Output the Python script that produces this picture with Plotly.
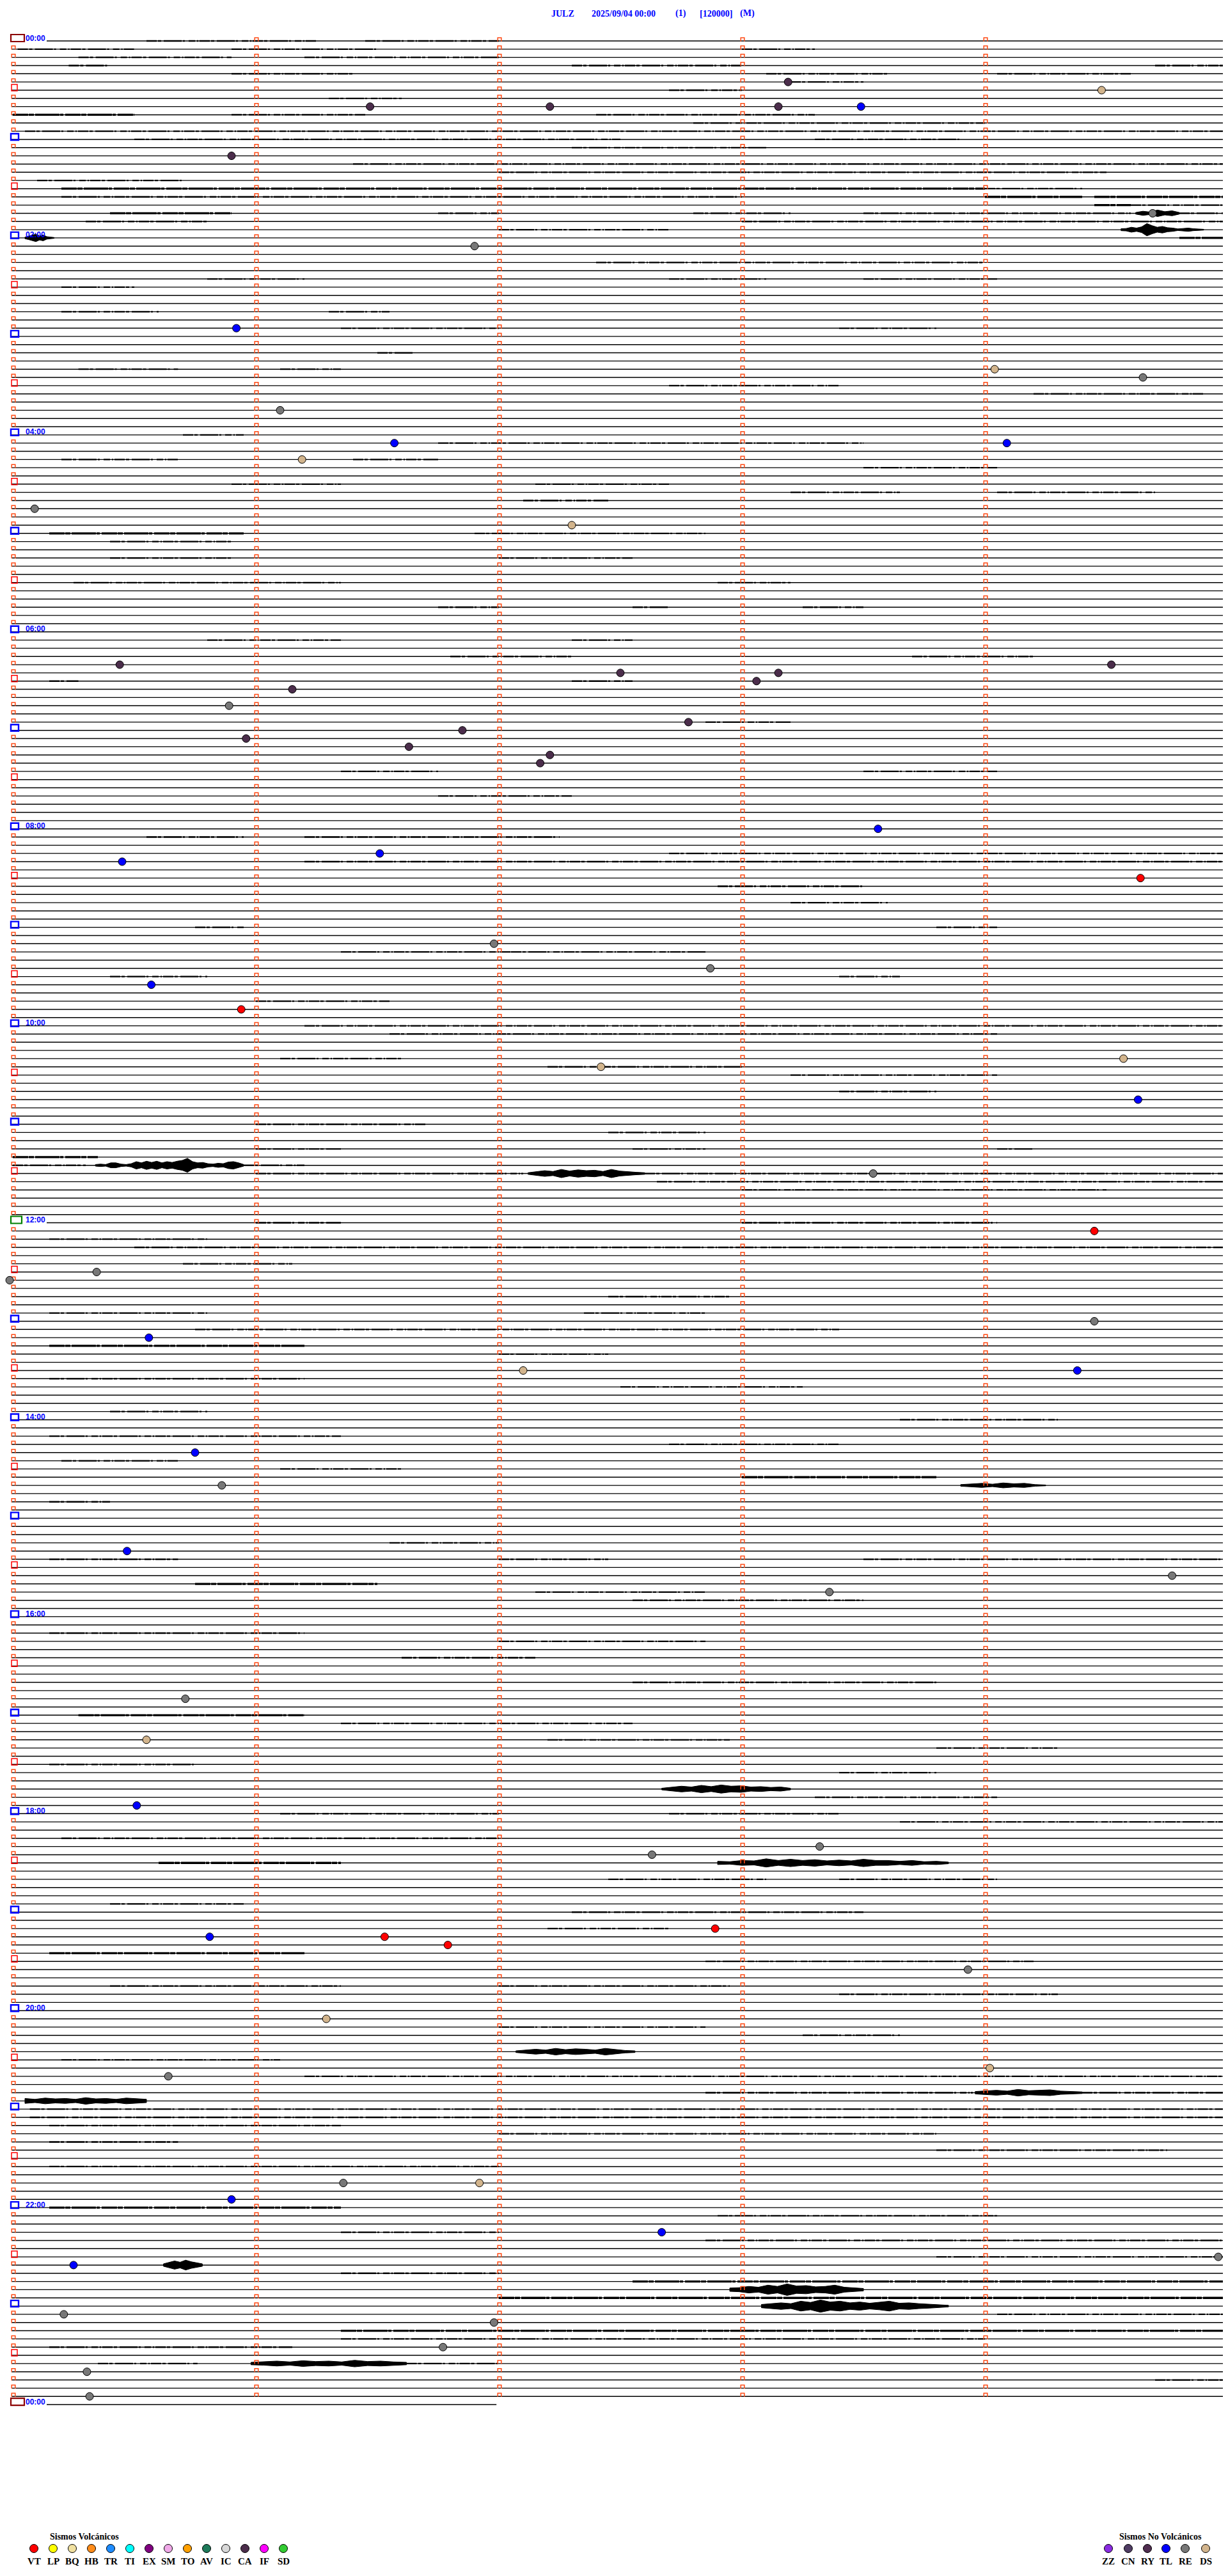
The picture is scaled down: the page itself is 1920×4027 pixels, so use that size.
import plotly.graph_objects as go

# ---------------- data ----------------
HEADER_PARTS = ["JULZ", "2025/09/04 00:00", "(1)", "[120000]", "(M)"]

N_LINES = 289              # one line per 5 minutes, 00:00 -> 00:00 next day
MINUTES_PER_LINE = 5
LAST_LINE_END_MIN = 1.99   # data available on the last line

TIME_LABEL_LINES = list(range(0, 289, 24))
TIME_LABELS = ["00:00", "02:00", "04:00", "06:00", "08:00", "10:00", "12:00",
               "14:00", "16:00", "18:00", "20:00", "22:00", "00:00"]

VOLC_TYPES = ["VT", "LP", "BQ", "HB", "TR", "TI", "EX", "SM", "TO", "AV", "IC", "CA", "IF", "SD"]
VOLC_COLORS = ["#FF0000", "#FFFF00", "#F0E0A0", "#FF8C1A", "#1E8CFF", "#00FFFF", "#800080",
               "#F0A8E8", "#FFA000", "#1E7A5A", "#D8D8D8", "#4B2D4B", "#FF00FF", "#33CC33"]
NONVOLC_TYPES = ["ZZ", "CN", "RY", "TL", "RE", "DS"]
NONVOLC_COLORS = ["#8A2BE2", "#503C64", "#502D50", "#0000FF", "#787878", "#D2B48C"]

# events: line index (5-min line), minute within line, type
EV_LINE = [5, 6, 8, 8, 8, 8, 14, 21, 25, 35, 40, 41, 45, 49, 49, 51, 57, 59,
           76, 76, 77, 77, 78, 79, 81, 83, 84, 85, 86, 87, 88,
           96, 100, 99, 102, 110, 113, 115, 118, 124, 125, 129, 138, 145,
           150, 151, 156, 158, 162, 162, 172, 176, 184, 187, 189,
           202, 207, 215, 220, 221, 230, 231, 231, 232, 235, 241, 247, 248,
           261, 261, 263, 267, 270, 271, 277, 278, 281, 284, 287]
EV_MIN = [3.19, 4.48, 1.47, 2.21, 3.15, 3.49, 0.90, 4.69, 1.90, 0.92, 4.04, 4.65, 1.10, 1.57, 4.09, 1.19, 0.09, 2.30,
          0.44, 4.52, 2.50, 3.15, 3.06, 1.15, 0.89, 2.78, 1.85, 0.96, 1.63, 2.21, 2.17,
          3.56, 0.45, 1.51, 4.64, 1.98, 2.87, 0.57, 0.94, 4.57, 2.42, 4.63, 3.54, 4.45,
          0.345, -0.013, 4.45, 0.56, 2.10, 4.38, 0.75, 0.86, 0.47, 4.77, 3.36,
          0.71, 0.55, 0.51, 3.32, 2.63, 2.89, 0.81, 1.53, 1.79, 3.93, 1.29, 4.02, 0.64,
          1.36, 1.92, 0.90, 2.67, 4.96, 0.25, 0.21, 1.98, 1.77, 0.305, 0.316]
EV_TYPE = ["CA", "DS", "CA", "CA", "CA", "TL", "CA", "RE", "RE", "TL", "DS", "RE", "RE", "TL", "TL", "DS", "RE", "DS",
           "CA", "CA", "CA", "CA", "CA", "CA", "RE", "CA", "CA", "CA", "CA", "CA", "CA",
           "TL", "TL", "TL", "VT", "RE", "RE", "TL", "VT", "DS", "DS", "TL", "RE", "VT",
           "RE", "RE", "RE", "TL", "DS", "TL", "TL", "RE", "TL", "RE", "RE",
           "RE", "DS", "TL", "RE", "RE", "VT", "TL", "VT", "VT", "RE", "DS", "DS", "RE",
           "RE", "DS", "TL", "TL", "RE", "TL", "RE", "RE", "RE", "RE", "RE"]

# background noise segments: (line, start minute, end minute, level)
NOISE_SEGMENTS = [
    (0, 0.55, 1.25, 1), (0, 1.45, 2.0, 1),
    (1, 0.02, 0.5, 1), (1, 0.9, 1.5, 1), (1, 3.0, 3.3, 1),
    (2, 0.27, 0.9, 1), (2, 1.2, 2.0, 1),
    (3, 0.23, 0.4, 1), (3, 2.3, 3.0, 1), (3, 4.7, 5.0, 1),
    (4, 0.9, 1.4, 1), (4, 3.1, 3.6, 1), (4, 4.05, 4.6, 1),
    (5, 3.2, 3.5, 1), (6, 2.7, 3.0, 1), (7, 1.3, 1.6, 1),
    (9, 0.0, 0.5, 2), (9, 0.9, 1.45, 1), (9, 2.4, 3.3, 1),
    (10, 2.8, 4.0, 1), (11, 0.05, 5.0, 1),
    (12, 0.5, 2.5, 1), (12, 3.3, 3.9, 1), (13, 2.3, 3.1, 1),
    (15, 1.4, 5.0, 1), (16, 2.0, 4.5, 1), (17, 0.1, 0.7, 1),
    (18, 0.2, 4.0, 2), (18, 4.0, 4.4, 1),
    (19, 0.2, 3.0, 1), (19, 4.0, 4.4, 2), (19, 4.45, 5.0, 2),
    (20, 4.45, 4.6, 2), (20, 4.6, 5.0, 1),
    (21, 0.4, 0.9, 2), (21, 1.75, 2.0, 1), (21, 2.8, 3.2, 1), (21, 3.5, 4.6, 1), (21, 4.8, 5.0, 1),
    (22, 0.3, 0.8, 1), (22, 3.0, 5.0, 1), (23, 2.0, 2.7, 1), (24, 4.8, 5.0, 2),
    (27, 2.4, 4.0, 1), (29, 0.8, 1.2, 1), (29, 2.7, 3.1, 1), (29, 3.5, 4.05, 1), (30, 0.2, 0.5, 1),
    (33, 0.2, 0.6, 1), (33, 1.3, 1.55, 1), (35, 1.35, 2.0, 1), (35, 3.4, 3.8, 1), (38, 1.5, 1.65, 1),
    (40, 0.27, 0.68, 1), (40, 1.1, 1.35, 1), (42, 2.7, 3.4, 1), (43, 4.2, 4.9, 1),
    (48, 0.7, 0.95, 1), (49, 1.75, 3.5, 1), (51, 0.2, 0.68, 1), (51, 1.4, 1.75, 1), (52, 3.5, 4.05, 1),
    (54, 0.9, 1.35, 1), (54, 2.15, 2.7, 1), (55, 3.2, 3.65, 1), (55, 4.05, 4.7, 1), (56, 2.1, 2.45, 1),
    (60, 0.15, 0.95, 2), (60, 1.9, 2.85, 1), (61, 0.4, 0.9, 1), (63, 0.4, 0.9, 1), (63, 2.0, 2.55, 1),
    (66, 0.25, 1.35, 1), (66, 2.9, 3.2, 1), (69, 1.75, 2.0, 1), (69, 2.55, 2.7, 1), (69, 3.25, 3.5, 1),
    (73, 0.8, 1.35, 1), (73, 2.3, 2.55, 1), (75, 1.8, 2.3, 1), (75, 3.7, 4.2, 1),
    (78, 0.15, 0.27, 1), (78, 2.3, 2.55, 1), (83, 2.85, 3.2, 1), (89, 1.35, 1.75, 1), (89, 3.5, 4.05, 1),
    (92, 1.75, 2.3, 1), (97, 0.55, 0.95, 1), (97, 1.2, 2.25, 1), (99, 2.7, 5.0, 1), (100, 1.2, 5.0, 1),
    (103, 2.9, 3.5, 1), (105, 3.2, 3.6, 1), (108, 0.75, 0.95, 1), (108, 3.8, 4.05, 1),
    (111, 1.35, 2.05, 1), (111, 2.05, 2.85, 1), (114, 0.4, 0.8, 1), (114, 3.4, 3.65, 1),
    (117, 1.0, 1.55, 1), (120, 1.2, 5.0, 1), (121, 1.55, 4.05, 1),
    (124, 1.1, 1.6, 1), (125, 2.2, 3.0, 1), (126, 3.2, 4.05, 1), (128, 3.4, 3.8, 1),
    (132, 1.0, 1.7, 1), (133, 2.45, 2.85, 1), (135, 1.0, 1.35, 1), (135, 2.55, 2.85, 1), (135, 4.05, 4.2, 1),
    (136, 0.0, 0.35, 2), (137, 0.0, 0.3, 1), (137, 0.95, 1.2, 1),
    (138, 1.0, 2.1, 1), (138, 2.6, 5.0, 1), (139, 2.65, 5.0, 1), (140, 3.0, 4.5, 1),
    (144, 1.0, 1.35, 1), (144, 3.0, 4.05, 1), (146, 0.15, 0.8, 1), (147, 0.5, 5.0, 1),
    (149, 0.7, 1.15, 1), (153, 2.45, 2.95, 1), (155, 0.15, 0.8, 1), (155, 2.35, 2.85, 1),
    (157, 0.75, 3.4, 1), (159, 0.15, 1.2, 2), (160, 2.0, 2.45, 1),
    (163, 0.15, 1.2, 1), (164, 2.5, 3.25, 1), (167, 0.4, 0.8, 1), (168, 3.65, 4.3, 1),
    (170, 0.15, 1.35, 1), (171, 2.7, 3.4, 1), (173, 0.2, 0.68, 1), (174, 1.1, 1.6, 1),
    (175, 3.0, 3.8, 2), (178, 0.15, 0.4, 1), (183, 1.55, 2.0, 1),
    (185, 0.15, 0.68, 1), (185, 2.0, 2.45, 1), (185, 3.5, 5.0, 1),
    (188, 0.75, 1.5, 2), (189, 2.15, 2.85, 1), (190, 2.55, 3.5, 1),
    (194, 0.15, 1.2, 1), (195, 2.0, 2.85, 1), (197, 1.6, 2.15, 1), (200, 2.55, 3.8, 1),
    (204, 0.27, 1.2, 2), (205, 1.35, 2.55, 1), (207, 2.2, 2.95, 1), (208, 3.8, 4.3, 1),
    (210, 0.15, 0.75, 1), (211, 3.4, 3.8, 1), (214, 3.3, 4.05, 1),
    (216, 1.1, 2.0, 1), (216, 2.7, 3.4, 1), (217, 3.65, 5.0, 1), (219, 0.2, 2.0, 1),
    (222, 0.6, 1.35, 2), (224, 2.45, 3.1, 1), (224, 3.4, 4.05, 1),
    (227, 0.4, 0.95, 1), (228, 2.3, 3.5, 1), (230, 2.2, 2.7, 1),
    (233, 0.15, 1.2, 2), (234, 2.85, 4.2, 1), (237, 0.4, 1.35, 1), (237, 2.0, 2.95, 1), (238, 3.4, 4.3, 1),
    (242, 2.0, 2.85, 1), (243, 3.25, 3.65, 1), (246, 0.2, 1.1, 1), (248, 1.2, 5.0, 1),
    (250, 2.85, 3.95, 1), (250, 4.4, 5.0, 1), (252, 0.07, 5.0, 1), (253, 0.07, 5.0, 1),
    (254, 0.15, 1.35, 1), (255, 2.0, 3.8, 1), (256, 0.15, 0.68, 1), (257, 3.8, 4.75, 1),
    (259, 0.15, 2.0, 1), (264, 0.15, 1.35, 2), (265, 2.9, 4.05, 1),
    (267, 1.35, 2.0, 1), (268, 2.85, 5.0, 1), (270, 3.8, 5.0, 1),
    (272, 1.35, 2.0, 1), (273, 2.55, 5.0, 2), (275, 2.0, 5.0, 2), (277, 4.05, 5.0, 1),
    (279, 1.35, 5.0, 2), (280, 1.35, 4.0, 1), (281, 0.15, 1.15, 1), (283, 0.35, 0.76, 1),
    (283, 1.62, 2.0, 1), (285, 4.7, 5.0, 1),
]

# seismic bursts: line, start minute, end minute, half-amplitude envelope (in line spacings)
BURSTS = [
    (21, 4.62, 4.8, [0.1, 0.25, 0.15, 0.4, 0.2, 0.3, 0.1]),
    (23, 4.56, 4.90, [0.12, 0.15, 0.3, 0.2, 0.35, 0.75, 0.5, 0.3, 0.4, 0.25, 0.2, 0.1, 0.15, 0.2, 0.12, 0.08, 0.05]),
    (24, 0.05, 0.17, [0.1, 0.2, 0.3, 0.45, 0.25, 0.35, 0.15, 0.1, 0.05]),
    (137, 0.34, 0.95, [0.1, 0.15, 0.1, 0.3, 0.3, 0.15, 0.1, 0.2, 0.45, 0.3, 0.5, 0.35, 0.5, 0.3, 0.45,
                       0.35, 0.5, 0.6, 0.85, 0.45, 0.3, 0.35, 0.2, 0.15, 0.25, 0.2, 0.4, 0.45, 0.3, 0.1]),
    (138, 2.12, 2.6, [0.1, 0.2, 0.35, 0.25, 0.5, 0.3, 0.45, 0.35, 0.4, 0.25, 0.5, 0.3, 0.2, 0.15, 0.1]),
    (176, 3.9, 4.25, [0.1, 0.15, 0.25, 0.15, 0.3, 0.2, 0.25, 0.1, 0.05]),
    (213, 2.67, 3.2, [0.1, 0.2, 0.35, 0.25, 0.45, 0.3, 0.5, 0.35, 0.4, 0.25, 0.3, 0.2, 0.25, 0.1]),
    (222, 2.9, 3.85, [0.2, 0.15, 0.3, 0.25, 0.5, 0.3, 0.45, 0.3, 0.4, 0.25, 0.35, 0.25, 0.45, 0.3,
                      0.3, 0.2, 0.3, 0.15, 0.2, 0.1]),
    (245, 2.07, 2.56, [0.1, 0.2, 0.3, 0.2, 0.4, 0.25, 0.35, 0.3, 0.2, 0.4, 0.25, 0.15, 0.1]),
    (250, 3.96, 4.4, [0.15, 0.25, 0.3, 0.2, 0.4, 0.25, 0.3, 0.35, 0.2, 0.15, 0.1]),
    (251, 0.05, 0.55, [0.3, 0.2, 0.35, 0.25, 0.3, 0.2, 0.4, 0.25, 0.3, 0.2, 0.35, 0.25, 0.2]),
    (271, 0.62, 0.78, [0.15, 0.3, 0.5, 0.35, 0.6, 0.4, 0.25, 0.15]),
    (274, 2.95, 3.5, [0.2, 0.25, 0.4, 0.3, 0.55, 0.4, 0.7, 0.45, 0.5, 0.35, 0.4, 0.55, 0.3, 0.25, 0.15]),
    (276, 3.08, 3.85, [0.2, 0.3, 0.4, 0.3, 0.6, 0.45, 0.75, 0.5, 0.6, 0.4, 0.5, 0.35, 0.45, 0.6,
                       0.35, 0.4, 0.3, 0.25, 0.2, 0.1]),
    (283, 0.98, 1.62, [0.15, 0.2, 0.3, 0.2, 0.35, 0.25, 0.3, 0.2, 0.4, 0.25, 0.3, 0.2, 0.15]),
]

# ---------------- layout geometry ----------------
W, H = 1920, 4027
X0_PX, PX_PER_MIN = 12, 380
Y0_PX, PX_PER_LINE = 56, 12.83


def mx(px):
    return (px - X0_PX) / PX_PER_MIN


def ky(py):
    return (py - Y0_PX) / PX_PER_LINE


TYPE_COLOR = dict(zip(VOLC_TYPES + NONVOLC_TYPES, VOLC_COLORS + NONVOLC_COLORS))

fig = go.Figure()

# baselines
bx, by = [], []
for k in range(N_LINES):
    start = mx(65) if k in (0, 144, 288) else mx(10)
    end = MINUTES_PER_LINE if k < N_LINES - 1 else LAST_LINE_END_MIN
    bx += [start, end, None]
    by += [k, k, None]
fig.add_trace(go.Scatter(x=bx, y=by, mode="lines", line=dict(color="black", width=1.4),
                         hoverinfo="skip", showlegend=False))

# noise segments
for lvl, width, dash in [(1, 2.3, "16px,2px,5px,4px,28px,2px,3px,6px,10px,3px,2px,2px"),
                         (2, 3.3, "24px,1px,8px,2px,38px,1px,5px,3px")]:
    nx, ny = [], []
    for (k, m0, m1, lv) in NOISE_SEGMENTS:
        if lv == lvl:
            nx += [m0, m1, None]
            ny += [k, k, None]
    fig.add_trace(go.Scatter(x=nx, y=ny, mode="lines", line=dict(color="black", width=width, dash=dash),
                             hoverinfo="skip", showlegend=False))

# bursts as filled jagged envelopes
px_, py_ = [], []
for (k, m0, m1, amps) in BURSTS:
    n = len(amps)
    ms = [m0 + (m1 - m0) * i / (n - 1) for i in range(n)]
    upper = [(m, k - a) for m, a in zip(ms, amps)]
    lower = [(m, k + a) for m, a in zip(ms, amps)][::-1]
    pts = upper + lower + [upper[0]]
    px_ += [p[0] for p in pts] + [None]
    py_ += [p[1] for p in pts] + [None]
fig.add_trace(go.Scatter(x=px_, y=py_, mode="lines", fill="toself", fillcolor="black",
                         line=dict(color="black", width=1), hoverinfo="skip", showlegend=False))

# minute ticks (small orange brackets)
tx, ty = [], []
hw = 2.8 / PX_PER_MIN
hh = 5.0 / PX_PER_LINE
for k in range(N_LINES - 1):
    for m in range(MINUTES_PER_LINE):
        if m == 0 and k % 6 == 0:
            continue
        cx = m + 1.0 / PX_PER_MIN
        tx += [cx - hw, cx - hw, cx + hw, cx + hw, None]
        ty += [k + 0.05, k - hh, k - hh, k + 0.05, None]
fig.add_trace(go.Scatter(x=tx, y=ty, mode="lines", line=dict(color="#FF4A14", width=1.5),
                         hoverinfo="skip", showlegend=False))

# half-hour / hour boxes
shapes = []
for k in range(0, N_LINES, 6):
    if k in (0, 288):
        col, x0, x1, lw, hgt = "#8B0000", 9, 30, 2.2, 10
    elif k == 144:
        col, x0, x1, lw, hgt = "#008000", 9, 26, 2.2, 10
    elif k % 12 == 0:
        col, x0, x1, lw, hgt = "#0000FF", 9, 21, 2.4, 9
    else:
        col, x0, x1, lw, hgt = "#FF0000", 10, 19, 1.5, 9
    shapes.append(dict(type="rect", xref="x", yref="y", x0=mx(x0), x1=mx(x1),
                       y0=k + 1 / PX_PER_LINE, y1=k - hgt / PX_PER_LINE,
                       line=dict(color=col, width=lw), fillcolor="rgba(0,0,0,0)"))

# events
for t in VOLC_TYPES + NONVOLC_TYPES:
    xs = [m for m, tt in zip(EV_MIN, EV_TYPE) if tt == t]
    ys = [k for k, tt in zip(EV_LINE, EV_TYPE) if tt == t]
    if xs:
        fig.add_trace(go.Scatter(x=xs, y=ys, mode="markers",
                                 marker=dict(size=12, color=TYPE_COLOR[t], line=dict(color="black", width=1)),
                                 hoverinfo="skip", showlegend=False))

annotations = []
# time labels
for k, lab in zip(TIME_LABEL_LINES, TIME_LABELS):
    annotations.append(dict(x=mx(47), y=k - 4.5 / PX_PER_LINE, xref="x", yref="y", text=f"<b>{lab}</b>",
                            showarrow=False, font=dict(family="Liberation Sans", size=12, color="#0000FF"),
                            xanchor="center", yanchor="middle"))

# header
HEADER_X = [872, 967, 1056, 1111, 1160]
for xx, txt in zip(HEADER_X, HEADER_PARTS):
    annotations.append(dict(x=xx / W, y=1 - 13 / H, xref="paper", yref="paper", text=f"<b>{txt}</b>",
                            showarrow=False, font=dict(family="Liberation Serif", size=14, color="#0000FF"),
                            xanchor="center", yanchor="middle"))


# legends
def add_legend(title, title_x, types, colors, xs):
    annotations.append(dict(x=title_x / W, y=1 - 3957 / H, xref="paper", yref="paper", text=f"<b>{title}</b>",
                            showarrow=False, font=dict(family="Liberation Serif", size=14, color="black"),
                            xanchor="center", yanchor="middle"))
    fig.add_trace(go.Scatter(x=[mx(v) for v in xs], y=[ky(3976)] * len(xs), mode="markers",
                             marker=dict(size=13, color=colors, line=dict(color="black", width=1)),
                             hoverinfo="skip", showlegend=False))
    for v, t in zip(xs, types):
        annotations.append(dict(x=v / W, y=1 - 3996 / H, xref="paper", yref="paper", text=f"<b>{t}</b>",
                                showarrow=False, font=dict(family="Liberation Serif", size=15, color="black"),
                                xanchor="center", yanchor="middle"))


add_legend("Sismos Volcánicos", 124, VOLC_TYPES, VOLC_COLORS, [45 + 30 * i for i in range(len(VOLC_TYPES))])
add_legend("Sismos No Volcánicos", 1806, NONVOLC_TYPES, NONVOLC_COLORS, [1725, 1756, 1786, 1815, 1845, 1877])

fig.update_layout(
    width=W, height=H, margin=dict(l=0, r=0, t=0, b=0),
    paper_bgcolor="white", plot_bgcolor="white",
    xaxis=dict(range=[mx(0), mx(W)], visible=False, showgrid=False, zeroline=False, fixedrange=True),
    yaxis=dict(range=[ky(H), ky(0)], visible=False, showgrid=False, zeroline=False, fixedrange=True),
    shapes=shapes, annotations=annotations, showlegend=False,
)

fig.write_html("out.html")
